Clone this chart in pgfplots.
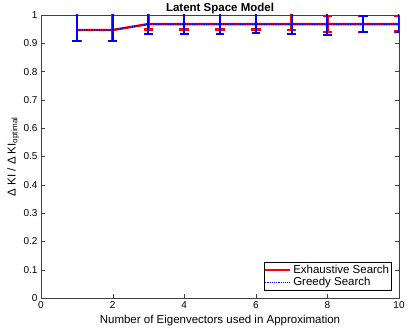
\documentclass[border=0pt]{standalone}
\usepackage{pgfplots}
\pgfplotsset{compat=1.18}
\usepackage{fontspec}
\setmainfont{Liberation Sans}

\pgfplotstableread{
x y ep em
1 0.947 0.1 0.039
2 0.947 0.1 0.039
3 0.968 0.1 0.020
4 0.968 0.1 0.020
5 0.968 0.1 0.020
6 0.968 0.1 0.019
7 0.968 0.1 0.021
8 0.968 0.028 0.028
9 0.968 0.028 0.028
10 0.968 0.028 0.026
}\exhaustive

\pgfplotstableread{
x y ep em
1 0.947 0.1 0.039
2 0.947 0.1 0.039
3 0.968 0.1 0.034
4 0.968 0.1 0.034
5 0.968 0.1 0.034
6 0.968 0.1 0.033
7 0.968 0.1 0.035
8 0.968 0.1 0.038
9 0.968 0.028 0.028
10 0.968 0.1 0.028
}\greedy

\begin{document}
\begin{tikzpicture}
\begin{axis}[
  name=ax,
  scale only axis,
  width=358pt, height=283pt,
  xmin=0, xmax=10, ymin=0, ymax=1,
  xtick={0,2,...,10},
  ytick={0,0.1,...,1},
  tick align=inside,
  axis line style={black!75},
  tick style={black!75},
  tick label style={font=\fontsize{10}{12}\selectfont},
  /pgf/number format/assume math mode=true,
  title={\textbf{Latent Space Model}},
  title style={font=\fontsize{11.5}{13}\selectfont, at={(axis description cs:0.5,1)}, anchor=center, yshift=0pt},
  xlabel={Number of Eigenvectors used in Approximation},
  ylabel={Δ KI / Δ KI\textsubscript{optimal}},
  label style={font=\fontsize{11.5}{13}\selectfont},
  xlabel style={at={(axis description cs:0.5,-0.078)}, anchor=center},
  ylabel style={at={(axis description cs:-0.078,0.5)}, anchor=center},
  legend cell align=left,
  legend image code/.code={\draw[#1] (0pt,0pt) -- (25pt,0pt);},
  legend style={font=\fontsize{11.5}{13}\selectfont, draw=black, inner sep=0.5pt,
    row sep=-1pt, at={(0.98,0.028)}, anchor=south east},
]
\addplot[red, line width=2.4pt, forget plot,
  error bars/.cd, y dir=both, y explicit,
  error bar style={line width=2.5pt, red},
  error mark options={rotate=90, mark size=4.8pt, line width=2.6pt, color=red, draw=red}]
  table[x=x, y=y, y error plus=ep, y error minus=em] {\exhaustive};
\addplot[blue, line width=1.4pt, densely dotted, forget plot,
  error bars/.cd, y dir=both, y explicit,
  error bar style={line width=2.1pt, blue, solid},
  error mark options={rotate=90, mark size=4.3pt, line width=2pt, color=blue, draw=blue, solid}]
  table[x=x, y=y, y error plus=ep, y error minus=em] {\greedy};
\addlegendimage{red, line width=2pt}
\addlegendentry{Exhaustive Search}
\addlegendimage{blue, line width=1.2pt, densely dotted}
\addlegendentry{Greedy Search}
\end{axis}
\pgfresetboundingbox
\path ([xshift=-41pt,yshift=-31pt]ax.south west) rectangle ([xshift=8pt,yshift=15pt]ax.north east);
\end{tikzpicture}
\end{document}
